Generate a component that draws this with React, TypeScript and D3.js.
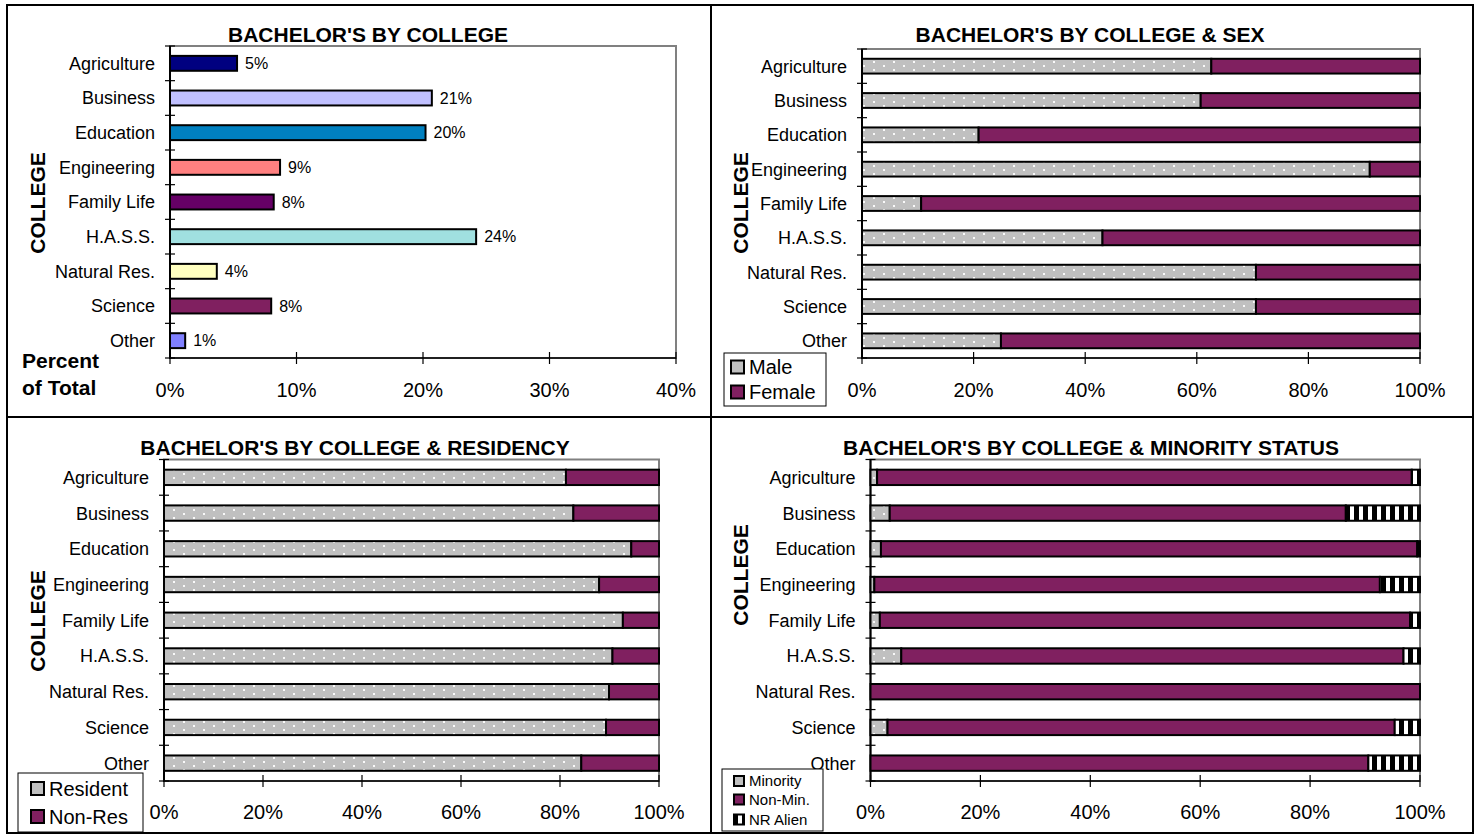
import React from 'react';
import * as d3 from 'd3';

const colleges = ["Agriculture", "Business", "Education", "Engineering", "Family Life", "H.A.S.S.", "Natural Res.", "Science", "Other"];
const pctOfTotal = [5.3, 20.7, 20.2, 8.7, 8.2, 24.2, 3.7, 8.0, 1.2];
const collegeColors = ["#000080", "#C0C0FF", "#0080C0", "#FF8080", "#660066", "#A0E0E0", "#FFFFC0", "#802060", "#8080FF"];

const male = [62.6, 60.7, 20.9, 91.0, 10.6, 43.1, 70.6, 70.6, 24.9];
const female = [37.4, 39.3, 79.1, 9.0, 89.4, 56.9, 29.4, 29.4, 75.1];

const resident = [81.2, 82.7, 94.4, 87.9, 92.7, 90.6, 89.9, 89.3, 84.3];
const nonRes = [18.8, 17.3, 5.6, 12.1, 7.3, 9.4, 10.1, 10.7, 15.7];

const minority = [1.2, 3.5, 1.9, 0.7, 1.7, 5.6, 0, 3.1, 0];
const nonMin = [97.3, 83.0, 97.6, 92.0, 96.5, 91.4, 100, 92.3, 90.6];
const nrAlien = [1.5, 13.5, 0.5, 7.3, 1.8, 3.0, 0, 4.6, 9.4];

const ticks40 = [0, 10, 20, 30, 40];
const ticks100 = [0, 20, 40, 60, 80, 100];

const FONT = "'Liberation Sans', Arial, Helvetica, sans-serif";
const MAROON = "#802060";

type Box = { x0: number; x1: number; y0: number; y1: number };

function Frame({ box, ticks, max, tickY }: { box: Box; ticks: number[]; max: number; tickY: number }) {
  const x = d3.scaleLinear().domain([0, max]).range([box.x0, box.x1]);
  const y = d3.scaleBand<string>().domain(colleges).range([box.y0, box.y1]);
  const step = y.step();
  return (
    <g>
      <rect x={box.x0} y={box.y0} width={box.x1 - box.x0} height={box.y1 - box.y0} fill="none" stroke="#808080" strokeWidth={2} />
      <line x1={box.x0} x2={box.x0} y1={box.y0} y2={box.y1 + 1} stroke="#000" strokeWidth={2} />
      <line x1={box.x0} x2={box.x1} y1={box.y1} y2={box.y1} stroke="#000" strokeWidth={1.5} />
      {d3.range(colleges.length + 1).map((k) => (
        <line key={"ct" + k} x1={box.x0 - 5} x2={box.x0 + 5} y1={box.y0 + k * step} y2={box.y0 + k * step} stroke="#000" strokeWidth={1.2} />
      ))}
      {ticks.map((t) => (
        <g key={"vt" + t}>
          <line x1={x(t)} x2={x(t)} y1={box.y1 - 6} y2={box.y1 + 6} stroke="#000" strokeWidth={1.2} />
          <text x={x(t)} y={tickY} dy="0.36em" textAnchor="middle" fontSize={20} fontFamily={FONT}>{t + "%"}</text>
        </g>
      ))}
      {colleges.map((c) => (
        <text key={"cl" + c} x={box.x0 - 15} y={(y(c) as number) + step / 2} dy="0.36em" textAnchor="end" fontSize={18} fontFamily={FONT}>{c}</text>
      ))}
    </g>
  );
}

function Title({ text, x, y }: { text: string; x: number; y: number }) {
  return <text x={x} y={y} dy="0.36em" textAnchor="middle" fontSize={21} fontWeight="bold" fontFamily={FONT}>{text}</text>;
}

function CollegeLabel({ x, y }: { x: number; y: number }) {
  return <text transform={`translate(${x},${y}) rotate(-90)`} dy="0.36em" textAnchor="middle" fontSize={21} fontWeight="bold" fontFamily={FONT}>COLLEGE</text>;
}

type Series = { key: string; values: number[]; fill: string };

function Stacked({ box, series }: { box: Box; series: Series[] }) {
  const x = d3.scaleLinear().domain([0, 100]).range([box.x0, box.x1]);
  const y = d3.scaleBand<string>().domain(colleges).range([box.y0, box.y1]).paddingInner(0.57).paddingOuter(0.285);
  const rows = colleges.map((c, i) => {
    const r: any = { college: c };
    series.forEach((s) => (r[s.key] = s.values[i]));
    return r;
  });
  const stacked = d3.stack<any>().keys(series.map((s) => s.key))(rows);
  return (
    <g>
      {stacked.map((layer, li) => (
        <g key={layer.key}>
          {layer.map((d, i) =>
            d[1] - d[0] > 0 ? (
              <rect key={i} x={x(d[0])} y={y(colleges[i])} width={x(d[1]) - x(d[0])} height={y.bandwidth()} fill={series[li].fill} stroke="#000" strokeWidth={2} />
            ) : null
          )}
        </g>
      ))}
    </g>
  );
}

function Legend({ x, y, w, h, items, sq, fs, textX, rowYs, sqYs }: { x: number; y: number; w: number; h: number; items: { label: string; fill: string }[]; sq: number; fs: number; textX: number; rowYs: number[]; sqYs: number }) {
  return (
    <g>
      <rect x={x} y={y} width={w} height={h} fill="#fff" stroke="#000" strokeWidth={1} />
      {items.map((it, i) => (
        <g key={it.label}>
          <rect x={sqYs} y={rowYs[i] - sq / 2} width={sq} height={sq} fill={it.fill} stroke="#000" strokeWidth={2} />
          <text x={textX} y={rowYs[i]} dy="0.36em" fontSize={fs} fontFamily={FONT}>{it.label}</text>
        </g>
      ))}
    </g>
  );
}

export default function App() {
  const tl: Box = { x0: 170, x1: 676, y0: 46, y1: 358 };
  const tr: Box = { x0: 862, x1: 1420, y0: 49, y1: 358 };
  const bl: Box = { x0: 164, x1: 659, y0: 459.5, y1: 781 };
  const br: Box = { x0: 870.5, x1: 1420, y0: 459.5, y1: 781 };

  const xTL = d3.scaleLinear().domain([0, 40]).range([tl.x0, tl.x1]);
  const yTL = d3.scaleBand<string>().domain(colleges).range([tl.y0, tl.y1]).paddingInner(0.57).paddingOuter(0.285);
  const fmt = (v: number) => d3.format(".0f")(v) + "%";

  const DOTS = "url(#dots)";
  const STRIPES = "url(#stripes)";

  return (
    <svg width={1479} height={835} style={{ position: "absolute", left: 0, top: 0, background: "#fff" }}>
      <defs>
        <pattern id="dots" width={20} height={8} patternUnits="userSpaceOnUse">
          <rect width={20} height={8} fill="#C0C0C0" />
          <rect x={3} y={1} width={2} height={2} fill="#fff" opacity={0.9} />
          <rect x={13} y={5} width={2} height={2} fill="#fff" opacity={0.9} />
        </pattern>
        <pattern id="stripes" width={9} height={10} patternUnits="userSpaceOnUse">
          <rect width={9} height={10} fill="#fff" />
          <rect x={4} width={5} height={10} fill="#000" />
        </pattern>
      </defs>
      <rect x={0} y={0} width={1479} height={835} fill="#fff" />

      {/* Top-left */}
      <Title text="BACHELOR'S BY COLLEGE" x={368} y={34} />
      <Frame box={tl} ticks={ticks40} max={40} tickY={389.5} />
      {pctOfTotal.map((v, i) => (
        <g key={"b" + i}>
          <rect x={xTL(0)} y={yTL(colleges[i])} width={xTL(v) - xTL(0)} height={yTL.bandwidth()} fill={collegeColors[i]} stroke="#000" strokeWidth={2} />
          <text x={xTL(v) + 8} y={(yTL(colleges[i]) as number) + yTL.bandwidth() / 2} dy="0.36em" fontSize={16} fontFamily={FONT}>{fmt(v)}</text>
        </g>
      ))}
      <CollegeLabel x={37} y={203} />
      <text x={22} y={360} dy="0.36em" fontSize={21} fontWeight="bold" fontFamily={FONT}>Percent</text>
      <text x={22} y={387.5} dy="0.36em" fontSize={21} fontWeight="bold" fontFamily={FONT}>of Total</text>

      {/* Top-right */}
      <Title text="BACHELOR'S BY COLLEGE & SEX" x={1090} y={34} />
      <Frame box={tr} ticks={ticks100} max={100} tickY={389.5} />
      <Stacked box={tr} series={[{ key: "Male", values: male, fill: DOTS }, { key: "Female", values: female, fill: MAROON }]} />
      <CollegeLabel x={740} y={203} />
      <Legend x={724} y={353} w={102} h={53} items={[{ label: "Male", fill: "#C0C0C0" }, { label: "Female", fill: MAROON }]} sq={13} fs={20} textX={749} rowYs={[367, 392]} sqYs={731} />

      {/* Bottom-left */}
      <Title text="BACHELOR'S BY COLLEGE & RESIDENCY" x={355} y={447} />
      <Frame box={bl} ticks={ticks100} max={100} tickY={812} />
      <Stacked box={bl} series={[{ key: "Resident", values: resident, fill: DOTS }, { key: "Non-Res", values: nonRes, fill: MAROON }]} />
      <CollegeLabel x={37} y={621} />
      <Legend x={18} y={773} w={125} h={59} items={[{ label: "Resident", fill: "#C0C0C0" }, { label: "Non-Res", fill: MAROON }]} sq={13} fs={20} textX={49} rowYs={[788.5, 816.5]} sqYs={31} />

      {/* Bottom-right */}
      <Title text="BACHELOR'S BY COLLEGE & MINORITY STATUS" x={1091} y={447} />
      <Frame box={br} ticks={ticks100} max={100} tickY={812} />
      <Stacked box={br} series={[{ key: "Minority", values: minority, fill: DOTS }, { key: "Non-Min.", values: nonMin, fill: MAROON }, { key: "NR Alien", values: nrAlien, fill: STRIPES }]} />
      <CollegeLabel x={740} y={575} />
      <Legend x={722} y={769} w={101} h={62} items={[{ label: "Minority", fill: "#C0C0C0" }, { label: "Non-Min.", fill: MAROON }, { label: "NR Alien", fill: STRIPES }]} sq={10} fs={15} textX={749} rowYs={[781, 799.5, 819.5]} sqYs={734} />

      {/* cell borders */}
      <rect x={7} y={5} width={1466} height={828} fill="none" stroke="#000" strokeWidth={2} />
      <line x1={711} x2={711} y1={5} y2={833} stroke="#000" strokeWidth={2} />
      <line x1={7} x2={1473} y1={417} y2={417} stroke="#000" strokeWidth={2} />
    </svg>
  );
}
